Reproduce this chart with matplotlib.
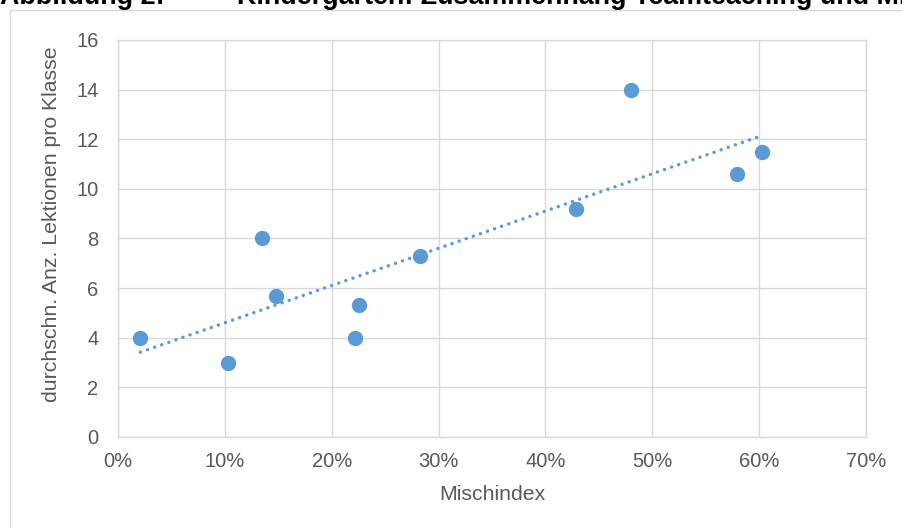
import numpy as np
import matplotlib
matplotlib.use("Agg")
import matplotlib.pyplot as plt
from matplotlib.ticker import PercentFormatter
from matplotlib.patches import Rectangle

# Data
mischindex = [0.021, 0.103, 0.135, 0.148, 0.222, 0.226, 0.283, 0.429, 0.480, 0.579, 0.603]
lektionen = [4.0, 3.0, 8.0, 5.7, 4.0, 5.3, 7.3, 9.2, 14.0, 10.6, 11.5]
x_ticks = [0.0, 0.1, 0.2, 0.3, 0.4, 0.5, 0.6, 0.7]
y_ticks = [0, 2, 4, 6, 8, 10, 12, 14, 16]
title_left = "Abbildung 2:"
title_right = "Kindergarten: Zusammenhang Teamteaching und Mischindex"
xlabel = "Mischindex"
ylabel = "durchschn. Anz. Lektionen pro Klasse"

W, H = 902, 528
plt.rcParams['font.family'] = ['Liberation Sans', 'DejaVu Sans']

fig = plt.figure(figsize=(W / 100, H / 100), dpi=100)
fig.patch.set_facecolor('white')

# chart area border
fig.add_artist(Rectangle((10 / W, -0.1), 1.2, 1.1 - 10 / H, transform=fig.transFigure,
                         fill=False, edgecolor='#D9D9D9', lw=1.0))

# document title (clipped at the top edge as in the reference)
fig.text(0 / W, 1 - 4 / H, title_left, fontsize=19.4, fontweight='bold', color='black',
         ha='left', va='baseline')
fig.text(237 / W, 1 - 4 / H, title_right, fontsize=19.4, fontweight='bold', color='black',
         ha='left', va='baseline')

left, right, top, bottom = 118, 866, 40, 437
ax = fig.add_axes([left / W, (H - bottom) / H, (right - left) / W, (bottom - top) / H])

blue = '#5B9BD5'
grid = '#D9D9D9'
txt = '#595959'

xs = np.array(mischindex)
ys = np.array(lektionen)
ax.scatter(xs, ys, s=122, color=blue, zorder=3, linewidths=0)

coef = np.polyfit(xs, ys, 1)
xl = np.array([xs.min(), xs.max()])
ax.plot(xl, np.polyval(coef, xl), color=blue, lw=2.5, linestyle=(0, (0.01, 2.15)),
        dash_capstyle='round', zorder=2)

ax.set_xlim(0, 0.7)
ax.set_ylim(0, 16)
ax.set_xticks(x_ticks)
ax.set_yticks(y_ticks)
ax.xaxis.set_major_formatter(PercentFormatter(1.0, decimals=0))
ax.grid(True, color=grid, lw=1.0)
ax.set_axisbelow(True)
for s in ax.spines.values():
    s.set_color(grid)
    s.set_linewidth(1.0)
ax.tick_params(length=0, labelsize=14.5, labelcolor=txt)
ax.tick_params(axis='y', pad=14)
ax.tick_params(axis='x', pad=11)

ax.set_xlabel(xlabel, fontsize=15.3, color=txt)
ax.set_ylabel(ylabel, fontsize=15.3, color=txt)
ax.xaxis.set_label_coords(0.5, (bottom - 495) / (bottom - top))
ax.xaxis.label.set_va('center')
ax.yaxis.set_label_coords((52 - left) / (right - left), (bottom - 224) / (bottom - top))
ax.yaxis.label.set_va('center')

fig.savefig('out.png', dpi=100)
